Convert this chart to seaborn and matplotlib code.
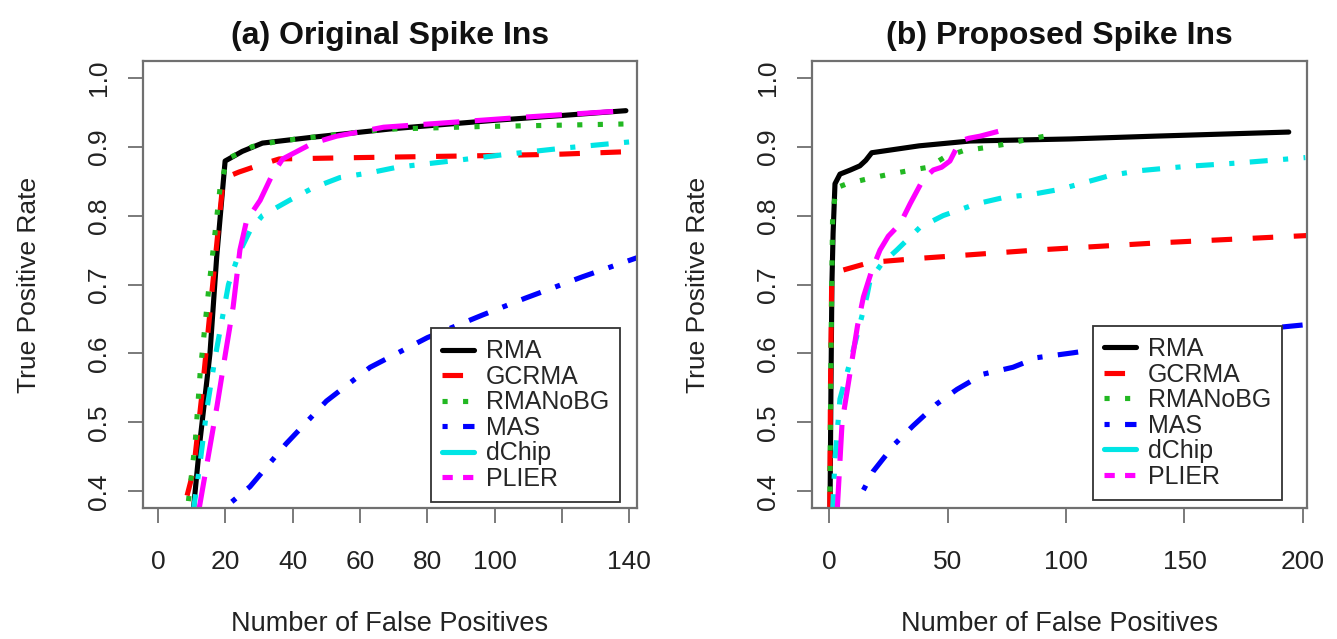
import matplotlib
matplotlib.use("Agg")
import matplotlib.pyplot as plt
from matplotlib.lines import Line2D
import numpy as np
import pandas as pd
import seaborn as sns

# ---- methods, colours and line types (R-style lty 1..6) ----
methods = ["RMA", "GCRMA", "RMANoBG", "MAS", "dChip", "PLIER"]
colors = ["#000000", "#ff0000", "#22b822", "#0000ff", "#00e5e5", "#ff00ff"]
line_dashes = ["", (4, 4), (1, 3), (1, 3, 4, 3), (3.5, 3, 1, 3), (7, 3)]
legend_dashes = ["", (4, 4), (1, 3), (1, 3, 4, 3), "", (2, 2)]

# ---- panel (a): original spike-ins ----
a_rma_fp = [10.4, 12.5, 15.4, 17.4, 19.9, 25, 31, 45, 70, 100, 120, 139]
a_rma_tpr = [0.37, 0.476, 0.60, 0.74, 0.879, 0.893, 0.905, 0.913, 0.926, 0.938, 0.945, 0.952]
a_gcrma_fp = [8.6, 10.5, 13, 16, 19.3, 21.5, 24, 30, 36, 60, 100, 120, 142]
a_gcrma_tpr = [0.394, 0.43, 0.54, 0.69, 0.85, 0.858, 0.863, 0.873, 0.882, 0.884, 0.887, 0.889, 0.893]
a_rmanobg_fp = [9, 11, 12.5, 15, 18.4, 20.5, 28, 36, 67, 96, 120, 142]
a_rmanobg_tpr = [0.386, 0.47, 0.573, 0.692, 0.84, 0.882, 0.90, 0.908, 0.925, 0.929, 0.931, 0.933]
a_mas_fp = [21.9, 27.3, 38, 50, 63, 80, 96.5, 109, 126, 143]
a_mas_tpr = [0.385, 0.407, 0.469, 0.531, 0.58, 0.623, 0.656, 0.68, 0.711, 0.74]
a_dchip_fp = [10.4, 12.5, 14.5, 17, 20.9, 24, 27.3, 31, 39, 46, 54, 63, 71, 87, 104, 121, 143]
a_dchip_tpr = [0.37, 0.443, 0.52, 0.596, 0.70, 0.745, 0.778, 0.80, 0.822, 0.84, 0.855, 0.862,
               0.87, 0.879, 0.889, 0.898, 0.908]
a_plier_fp = [12, 14.5, 17.5, 20, 22.3, 24.3, 26.3, 30.3, 34, 37, 46, 53, 67, 90, 110, 139]
a_plier_tpr = [0.37, 0.44, 0.524, 0.60, 0.668, 0.75, 0.793, 0.822, 0.86, 0.882, 0.905, 0.915,
               0.928, 0.936, 0.943, 0.952]

# ---- panel (b): proposed spike-ins ----
b_rma_fp = [0.4, 0.8, 1.2, 1.7, 2.5, 4.6, 9, 13, 15.5, 18, 38, 59.5, 101.7, 137, 194]
b_rma_tpr = [0.37, 0.55, 0.70, 0.774, 0.846, 0.86, 0.866, 0.872, 0.88, 0.891, 0.901, 0.908,
             0.911, 0.915, 0.921]
b_gcrma_fp = [0.3, 0.6, 1.1, 6, 17.3, 38.4, 55, 87.6, 137, 202]
b_gcrma_tpr = [0.37, 0.55, 0.702, 0.721, 0.732, 0.738, 0.742, 0.75, 0.76, 0.771]
b_rmanobg_fp = [0.3, 0.8, 1.5, 3, 7.5, 16, 24.3, 33.5, 41.9, 49, 56.7, 65.1, 73.6, 82, 91]
b_rmanobg_tpr = [0.37, 0.6, 0.8, 0.84, 0.846, 0.853, 0.859, 0.865, 0.870, 0.885, 0.894, 0.898,
                 0.903, 0.909, 0.915]
b_mas_fp = [14.5, 18.6, 27.8, 35.4, 45.5, 54, 65, 77.6, 87.8, 103, 130, 160, 193, 202]
b_mas_tpr = [0.402, 0.429, 0.469, 0.495, 0.527, 0.548, 0.57, 0.58, 0.594, 0.601, 0.615, 0.627,
             0.639, 0.642]
b_dchip_fp = [1.5, 2.5, 4.6, 10.3, 15.9, 17.3, 22.2, 28.6, 38.4, 48.2, 62.3, 73.6, 86.2, 97.5,
              118.6, 131, 150, 172, 201]
b_dchip_tpr = [0.37, 0.447, 0.534, 0.606, 0.682, 0.706, 0.73, 0.75, 0.783, 0.80, 0.817, 0.826,
               0.831, 0.838, 0.858, 0.865, 0.871, 0.876, 0.884]
b_plier_fp = [3.4, 5.5, 8.9, 12, 14.5, 18, 21.5, 25, 30, 34.2, 39.8, 44, 47.5, 51, 55.3, 59,
              63.7, 71.4]
b_plier_tpr = [0.37, 0.5, 0.573, 0.64, 0.682, 0.72, 0.75, 0.77, 0.788, 0.817, 0.853, 0.866,
               0.87, 0.879, 0.908, 0.912, 0.915, 0.922]

# ---- axes text ----
titles = ["(a) Original Spike Ins", "(b) Proposed Spike Ins"]
xlabel = "Number of False Positives"
ylabel = "True Positive Rate"
yticks = [0.4, 0.5, 0.6, 0.7, 0.8, 0.9, 1.0]
yticklabels = ["0.4", "0.5", "0.6", "0.7", "0.8", "0.9", "1.0"]
xticks_a = [0, 20, 40, 60, 80, 100, 120, 140]
xticklabels_a = ["0", "20", "40", "60", "80", "100", "", "140"]
xticks_b = [0, 50, 100, 150, 200]
xticklabels_b = ["0", "50", "100", "150", "200"]


def long_frame(series):
    parts = []
    for name, (fp, tpr) in zip(methods, series):
        parts.append(pd.DataFrame({"method": name, "fp": fp, "tpr": tpr}))
    return pd.concat(parts, ignore_index=True)


df_a = long_frame([(a_rma_fp, a_rma_tpr), (a_gcrma_fp, a_gcrma_tpr),
                   (a_rmanobg_fp, a_rmanobg_tpr), (a_mas_fp, a_mas_tpr),
                   (a_dchip_fp, a_dchip_tpr), (a_plier_fp, a_plier_tpr)])
df_b = long_frame([(b_rma_fp, b_rma_tpr), (b_gcrma_fp, b_gcrma_tpr),
                   (b_rmanobg_fp, b_rmanobg_tpr), (b_mas_fp, b_mas_tpr),
                   (b_dchip_fp, b_dchip_tpr), (b_plier_fp, b_plier_tpr)])

sns.set_theme(style="white")
plt.rcParams["font.family"] = ["Liberation Sans", "DejaVu Sans"]

LW = 3.7
GREY = "#707070"

fig = plt.figure(figsize=(13.37, 6.39), dpi=100)
W, H = 1337.0, 639.0
ax_a = fig.add_axes([143 / W, 1 - 508 / H, 494 / W, 447 / H])
ax_b = fig.add_axes([812 / W, 1 - 508 / H, 495 / W, 447 / H])

palette = dict(zip(methods, colors))
dash_map = dict(zip(methods, line_dashes))

panels = [
    (ax_a, df_a, titles[0], xticks_a, xticklabels_a, (-4.5, 142.3), (0.9656, 0.0134)),
    (ax_b, df_b, titles[1], xticks_b, xticklabels_b, (-7.2, 201.7), (0.9495, 0.018)),
]

for ax, df, title, xt, xtl, xlim, legpos in panels:
    sns.lineplot(data=df, x="fp", y="tpr", hue="method", style="method",
                 hue_order=methods, style_order=methods, palette=palette,
                 dashes=dash_map, sort=False, estimator=None, linewidth=LW,
                 legend=False, ax=ax)
    for ln in ax.lines:
        ln.set_dash_capstyle("butt")
        ln.set_solid_capstyle("round")
    ax.set_xlim(*xlim)
    ax.set_ylim(0.376, 1.024)
    ax.set_xticks(xt)
    ax.set_xticklabels(xtl)
    ax.set_yticks(yticks)
    ax.set_yticklabels(yticklabels, rotation=90, va="center")
    ax.tick_params(axis="both", which="major", direction="out", length=11, width=1.3,
                   color=GREY, labelsize=19, labelcolor="#222222")
    ax.tick_params(axis="x", pad=19, bottom=True)
    ax.tick_params(axis="y", pad=12, left=True)
    for sp in ax.spines.values():
        sp.set_color(GREY)
        sp.set_linewidth(1.6)
        sp.set_visible(True)
    ax.set_title(title, fontsize=23, fontweight="bold", pad=12, color="#111111")
    ax.set_xlabel(xlabel, fontsize=19.5, labelpad=27, color="#222222")
    ax.set_ylabel(ylabel, fontsize=19, labelpad=33, color="#222222")

    handles = [Line2D([0], [0], color=c, lw=LW,
                      linestyle="-" if d == "" else (0, d),
                      dash_capstyle="butt")
               for c, d in zip(colors, legend_dashes)]
    leg = ax.legend(handles, methods, loc="lower right", bbox_to_anchor=legpos,
                    borderaxespad=0, fontsize=18, labelspacing=0.06,
                    handlelength=1.3, handletextpad=0.45, borderpad=0.45,
                    fancybox=False, framealpha=1, edgecolor="#333333")
    leg.get_frame().set_linewidth(1.3)

fig.savefig("out.png", dpi=100)
